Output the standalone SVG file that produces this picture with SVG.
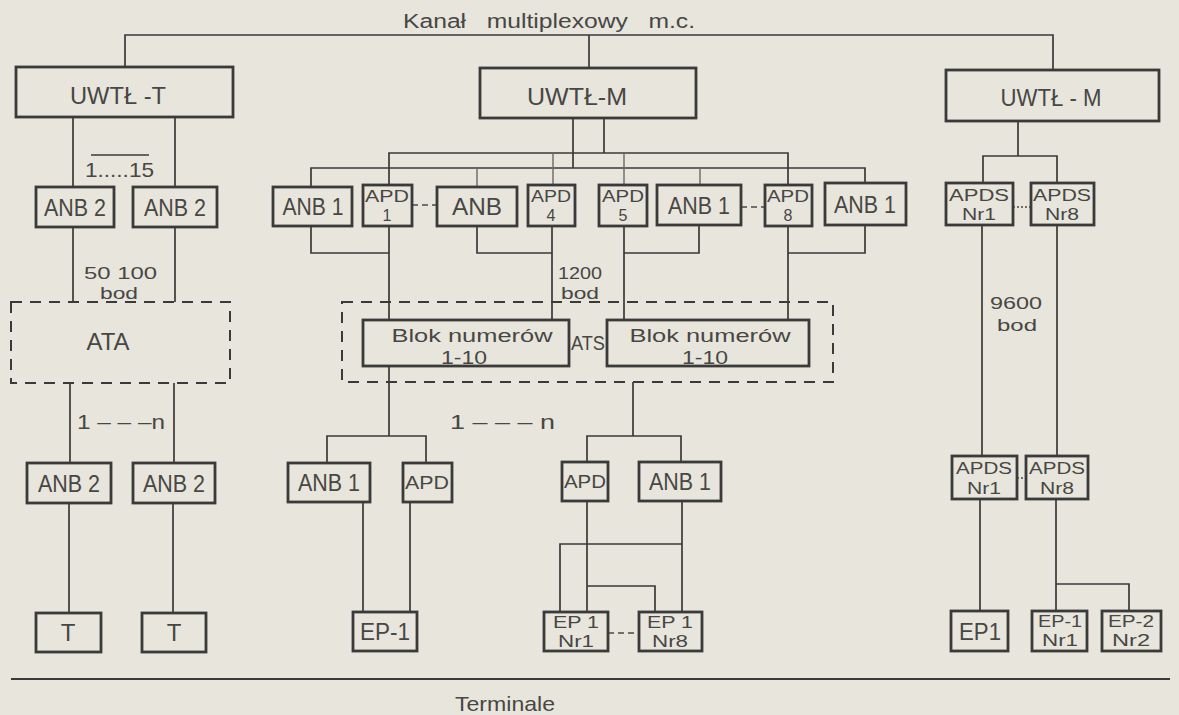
<svg xmlns="http://www.w3.org/2000/svg" width="1179" height="715" viewBox="0 0 1179 715">
<style>
.bg{fill:#e8e5dd}
.box{fill:none;stroke:#3a3a3a;stroke-width:2.8}
.dbox{fill:none;stroke:#3a3a3a;stroke-width:2;stroke-dasharray:11 8}
.ln{fill:none;stroke:#3a3a3a;stroke-width:1.7}
.stub{fill:none;stroke:#6a6a66;stroke-width:1.4}
.dash{fill:none;stroke:#4a4a4a;stroke-width:1.5;stroke-dasharray:6 4}
.dot{fill:none;stroke:#4a4a4a;stroke-width:1.3;stroke-dasharray:2 2}
text{font-family:"Liberation Sans",Arial,sans-serif;fill:#474744}
.l{font-size:24px;text-anchor:middle}
.s{font-size:16px;text-anchor:middle}
.m{font-size:18px;text-anchor:middle}
.n{font-size:21px}
.k{font-size:17px}
</style>
<rect class="bg" x="0" y="0" width="1179" height="715"/>

<g id="connectors">
  <path class="ln" d="M125,67 V35 H1053 V70"/>
  <path class="ln" d="M589,35 V68"/>
  <path class="ln" d="M73,117 V187 M175,117 V187"/>
  <path class="ln" d="M73,227 V302 M175,227 V302"/>
  <path class="ln" d="M70,383 V463 M174,383 V463"/>
  <path class="ln" d="M69,503 V613 M173,503 V613"/>
  <path class="ln" d="M573,118 V168 M604,118 V153"/>
  <path class="ln" d="M389,185 V153 H788 V185"/>
  <path class="ln" d="M311,187 V168 H865 V183"/>
  <path class="stub" d="M553,153 V185 M624,153 V185 M477,168 V187 M700,168 V185"/>
  <path class="ln" d="M311,226 V253 H389 M389,226 V320 M477,226 V253 H552 M552,226 V320"/>
  <path class="ln" d="M624,226 V320 M699,225 V253 H624 M788,226 V320 M865,225 V253 H788"/>
  <path class="ln" d="M389,366 V436 M327,463 V436 H426 V463"/>
  <path class="ln" d="M633,382 V436 M587,462 V436 H681 V462"/>
  <path class="ln" d="M363,502 V612 M410,502 V612"/>
  <path class="ln" d="M587,501 V612 M682,501 V612 M560,612 V544 H682 M587,586 H655 V612"/>
  <path class="ln" d="M1018,121 V156 M983,183 V156 H1057 V183"/>
  <path class="ln" d="M982,225 V456 M1057,225 V456"/>
  <path class="ln" d="M980,499 V611 M1056,499 V611 M1056,584 H1129 V611"/>
  <path class="dash" d="M412,205 H437 M741,207 H765 M608,633 H639"/>
  <path class="dot" d="M1013,207 H1031 M1017,478 H1026"/>
  <path class="ln" d="M11,679 H1170" style="stroke-width:2"/>
</g>

<g id="labels">
  <text x="403" y="28" style="font-size:20px;white-space:pre" textLength="292" lengthAdjust="spacingAndGlyphs">Kanał   multiplexowy   m.c.</text>
  <line class="ln" x1="91" y1="155" x2="149" y2="155"/>
  <text class="n" x="85" y="177" textLength="69" lengthAdjust="spacingAndGlyphs">1.....15</text>
  <text class="k" x="84" y="279" textLength="73" lengthAdjust="spacingAndGlyphs">50 100</text>
  <text class="k" x="100" y="299" textLength="38" lengthAdjust="spacingAndGlyphs">bod</text>
  <text class="n" x="77" y="429" textLength="88" lengthAdjust="spacingAndGlyphs">1 – – –n</text>
  <text class="k" x="558" y="279" textLength="44" lengthAdjust="spacingAndGlyphs">1200</text>
  <text class="k" x="561" y="299" textLength="38" lengthAdjust="spacingAndGlyphs">bod</text>
  <text class="n" x="450" y="429" textLength="105" lengthAdjust="spacingAndGlyphs">1 – – – n</text>
  <text class="k" x="990" y="309" textLength="52" lengthAdjust="spacingAndGlyphs">9600</text>
  <text class="k" x="997" y="331" textLength="40" lengthAdjust="spacingAndGlyphs">bod</text>
  <text class="n" x="455" y="711" textLength="100" lengthAdjust="spacingAndGlyphs">Terminale</text>
</g>

<g id="uwtl-t"><rect class="box" x="16" y="67" width="217" height="50"/><text class="l" x="118" y="104" textLength="96" lengthAdjust="spacingAndGlyphs">UWTŁ -T</text></g>
<g id="uwtl-m1"><rect class="box" x="480" y="68" width="216" height="50"/><text class="l" x="577" y="105" textLength="100" lengthAdjust="spacingAndGlyphs">UWTŁ-M</text></g>
<g id="uwtl-m2"><rect class="box" x="946" y="70" width="213" height="51"/><text class="l" x="1051" y="106" textLength="101" lengthAdjust="spacingAndGlyphs">UWTŁ - M</text></g>

<g id="anb2-a"><rect class="box" x="36" y="187" width="78" height="40"/><text class="l" x="75" y="216" textLength="62" lengthAdjust="spacingAndGlyphs">ANB 2</text></g>
<g id="anb2-b"><rect class="box" x="133" y="187" width="84" height="40"/><text class="l" x="175" y="216" textLength="62" lengthAdjust="spacingAndGlyphs">ANB 2</text></g>

<g id="ata"><rect class="dbox" x="11" y="302" width="219" height="81"/><text class="l" x="108" y="350" textLength="43" lengthAdjust="spacingAndGlyphs">ATA</text></g>

<g id="anb2-c"><rect class="box" x="27" y="463" width="84" height="40"/><text class="l" x="69" y="492" textLength="62" lengthAdjust="spacingAndGlyphs">ANB 2</text></g>
<g id="anb2-d"><rect class="box" x="133" y="463" width="82" height="40"/><text class="l" x="174" y="492" textLength="62" lengthAdjust="spacingAndGlyphs">ANB 2</text></g>
<g id="t-a"><rect class="box" x="36" y="613" width="65" height="39"/><text class="l" x="68" y="641">T</text></g>
<g id="t-b"><rect class="box" x="142" y="613" width="64" height="39"/><text class="l" x="174" y="641">T</text></g>

<g id="anb1-a"><rect class="box" x="273" y="187" width="79" height="39"/><text class="l" x="313" y="215" textLength="61" lengthAdjust="spacingAndGlyphs">ANB 1</text></g>
<g id="apd1"><rect class="box" x="363" y="185" width="49" height="41"/><text class="s" x="387" y="202" textLength="44" lengthAdjust="spacingAndGlyphs">APD</text><text class="s" x="387" y="221">1</text></g>
<g id="anb"><rect class="box" x="437" y="187" width="80" height="39"/><text class="l" x="477" y="215" textLength="50" lengthAdjust="spacingAndGlyphs">ANB</text></g>
<g id="apd4"><rect class="box" x="528" y="185" width="47" height="41"/><text class="s" x="551" y="202" textLength="40" lengthAdjust="spacingAndGlyphs">APD</text><text class="s" x="551" y="221">4</text></g>
<g id="apd5"><rect class="box" x="599" y="185" width="48" height="41"/><text class="s" x="623" y="202" textLength="42" lengthAdjust="spacingAndGlyphs">APD</text><text class="s" x="623" y="221">5</text></g>
<g id="anb1-b"><rect class="box" x="657" y="185" width="84" height="40"/><text class="l" x="699" y="214" textLength="62" lengthAdjust="spacingAndGlyphs">ANB 1</text></g>
<g id="apd8"><rect class="box" x="765" y="185" width="47" height="41"/><text class="s" x="788" y="202" textLength="42" lengthAdjust="spacingAndGlyphs">APD</text><text class="s" x="788" y="221">8</text></g>
<g id="anb1-c"><rect class="box" x="825" y="183" width="81" height="42"/><text class="l" x="865" y="213" textLength="62" lengthAdjust="spacingAndGlyphs">ANB 1</text></g>

<g id="apds-nr1"><rect class="box" x="946" y="183" width="67" height="42"/><text class="s" x="979" y="201" textLength="60" lengthAdjust="spacingAndGlyphs">APDS</text><text class="s" x="979" y="220" textLength="34" lengthAdjust="spacingAndGlyphs">Nr1</text></g>
<g id="apds-nr8"><rect class="box" x="1031" y="183" width="63" height="42"/><text class="s" x="1062" y="201" textLength="58" lengthAdjust="spacingAndGlyphs">APDS</text><text class="s" x="1062" y="220" textLength="34" lengthAdjust="spacingAndGlyphs">Nr8</text></g>

<g id="ats"><rect class="dbox" x="342" y="302" width="491" height="80"/><text x="571" y="350" style="font-size:21px" textLength="34" lengthAdjust="spacingAndGlyphs">ATS</text></g>
<g id="blok1"><rect class="box" x="363" y="320" width="206" height="46"/><text class="m" x="472" y="342" textLength="161" lengthAdjust="spacingAndGlyphs">Blok  numerów</text><text class="m" x="464" y="364" textLength="46" lengthAdjust="spacingAndGlyphs">1-10</text></g>
<g id="blok2"><rect class="box" x="607" y="320" width="202" height="46"/><text class="m" x="710" y="342" textLength="161" lengthAdjust="spacingAndGlyphs">Blok  numerów</text><text class="m" x="705" y="364" textLength="46" lengthAdjust="spacingAndGlyphs">1-10</text></g>

<g id="anb1-d"><rect class="box" x="288" y="463" width="82" height="39"/><text class="l" x="329" y="491" textLength="62" lengthAdjust="spacingAndGlyphs">ANB 1</text></g>
<g id="apd-a"><rect class="box" x="403" y="463" width="49" height="39"/><text class="s" x="427" y="489" style="font-size:19px" textLength="44" lengthAdjust="spacingAndGlyphs">APD</text></g>
<g id="apd-b"><rect class="box" x="562" y="462" width="46" height="39"/><text class="s" x="585" y="488" style="font-size:19px" textLength="42" lengthAdjust="spacingAndGlyphs">APD</text></g>
<g id="anb1-e"><rect class="box" x="639" y="462" width="82" height="39"/><text class="l" x="680" y="490" textLength="62" lengthAdjust="spacingAndGlyphs">ANB 1</text></g>

<g id="ep-1"><rect class="box" x="353" y="612" width="64" height="39"/><text class="l" x="385" y="640" textLength="50" lengthAdjust="spacingAndGlyphs">EP-1</text></g>
<g id="ep1-nr1"><rect class="box" x="544" y="612" width="64" height="39"/><text class="s" x="576" y="628" textLength="46" lengthAdjust="spacingAndGlyphs">EP 1</text><text class="s" x="576" y="647" textLength="36" lengthAdjust="spacingAndGlyphs">Nr1</text></g>
<g id="ep1-nr8"><rect class="box" x="639" y="612" width="63" height="39"/><text class="s" x="670" y="628" textLength="46" lengthAdjust="spacingAndGlyphs">EP 1</text><text class="s" x="670" y="647" textLength="36" lengthAdjust="spacingAndGlyphs">Nr8</text></g>

<g id="apds-nr1-b"><rect class="box" x="952" y="456" width="65" height="43"/><text class="s" x="984" y="474" textLength="56" lengthAdjust="spacingAndGlyphs">APDS</text><text class="s" x="984" y="494" textLength="34" lengthAdjust="spacingAndGlyphs">Nr1</text></g>
<g id="apds-nr8-b"><rect class="box" x="1026" y="456" width="62" height="43"/><text class="s" x="1057" y="474" textLength="56" lengthAdjust="spacingAndGlyphs">APDS</text><text class="s" x="1057" y="494" textLength="34" lengthAdjust="spacingAndGlyphs">Nr8</text></g>

<g id="ep1-r"><rect class="box" x="951" y="611" width="57" height="40"/><text class="l" x="980" y="640" textLength="42" lengthAdjust="spacingAndGlyphs">EP1</text></g>
<g id="ep-1-nr1"><rect class="box" x="1032" y="611" width="55" height="40"/><text class="s" x="1060" y="627" textLength="44" lengthAdjust="spacingAndGlyphs">EP-1</text><text class="s" x="1060" y="646" textLength="36" lengthAdjust="spacingAndGlyphs">Nr1</text></g>
<g id="ep-2-nr2"><rect class="box" x="1102" y="611" width="59" height="40"/><text class="s" x="1131" y="627" textLength="46" lengthAdjust="spacingAndGlyphs">EP-2</text><text class="s" x="1131" y="646" textLength="38" lengthAdjust="spacingAndGlyphs">Nr2</text></g>
</svg>
